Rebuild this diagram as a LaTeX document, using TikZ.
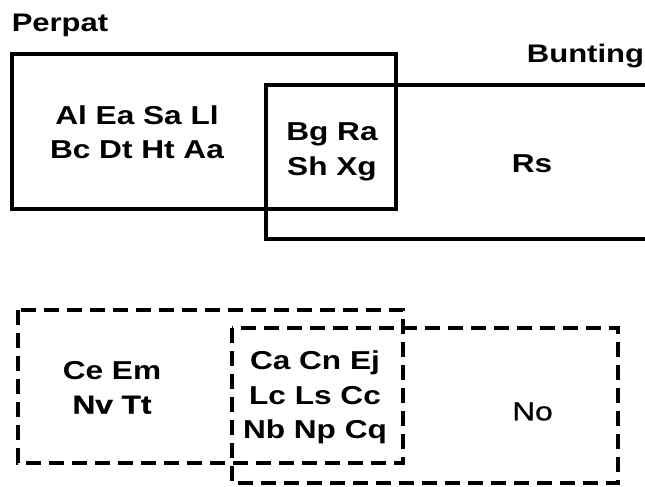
\documentclass[tikz,border=0pt]{standalone}
\usepackage{fontspec}
\setmainfont{Liberation Sans}[FakeStretch=1.22]
\newfontfamily\halfbold{Liberation Sans}[FakeStretch=1.22, FakeBold=1]
\usetikzlibrary{positioning}
\tikzset{
    setbox/.style={line width=3.1bp, black},
    % dashed outlines of the second pair
    dashbox/.style={line width=3.1bp, black, dash pattern=on 15bp off 8bp},
    member/.style={font=\bfseries\fontsize{26}{34.5}\selectfont, align=center, inner sep=0pt},
    plainmember/.style={member, font=\halfbold\fontsize{26}{34.5}\selectfont},
    setname/.style={font=\bfseries\fontsize{25.5}{28}\selectfont, inner sep=0pt}
}

\begin{document}
\begin{tikzpicture}[x=1bp,y=-1bp]
        \clip (0,0) rectangle (645,487);
        \fill[white] (0,0) rectangle (645,487);

        \draw[setbox] (12,54) rectangle (396,209);
        \draw[setbox] (266,85) rectangle (648,239);
        \draw[dashbox] (18,310) rectangle (403,463);
        \draw[dashbox] (232,328) rectangle (618,483);

        \node[setname] (perpat) at (60,25.5) {Perpat};
        \node[setname] (bunting) at (585.5,55.5) {Bunting};

        \node[member] (onlyP) at (137,132) {Al Ea Sa Ll\\Bc Dt Ht Aa};
        \node[member] (both) at (332,152) {Bg Ra\\Sh Xg};
        \node[member] (onlyB) at (532,164) {Rs};

        \node[member] (onlyL) at (112,387.5) {Ce Em\\{\halfbold Nv Tt}};
        \node[member] (common) at (315,397.5) {Ca Cn Ej\\Lc Ls Cc\\Nb Np Cq};
        \node[plainmember] (onlyR) at (532.5,411.5) {No};
\end{tikzpicture}
\end{document}
